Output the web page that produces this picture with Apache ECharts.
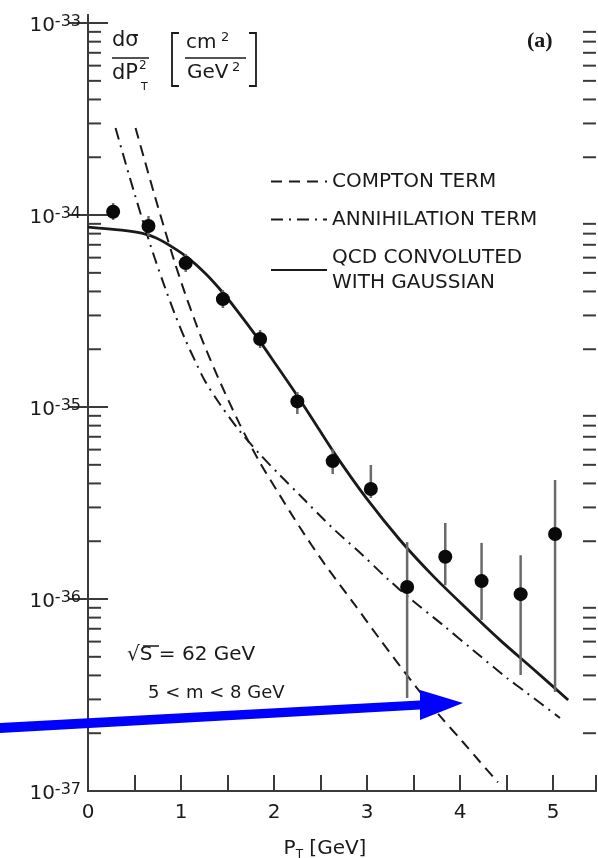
<!DOCTYPE html>
<html><head><meta charset="utf-8">
<script src="https://cdn.jsdelivr.net/npm/echarts@6/dist/echarts.min.js"></script>
<style>html,body{margin:0;padding:0;background:#fff}#c{width:598px;height:858px}</style>
</head><body><div id="c"></div>
<script>
// ---- data ----
const xTicks = [0, 1, 2, 3, 4, 5];
const yTickExponents = [-37, -36, -35, -34, -33];
const minorTickValues = [
  2e-37,3e-37,4e-37,5e-37,6e-37,7e-37,8e-37,9e-37,
  2e-36,3e-36,4e-36,5e-36,6e-36,7e-36,8e-36,9e-36,
  2e-35,3e-35,4e-35,5e-35,6e-35,7e-35,8e-35,9e-35,
  2e-34,3e-34,4e-34,5e-34,6e-34,7e-34,8e-34,9e-34];

const ptData    = [0.27, 0.65, 1.05, 1.45, 1.85, 2.25, 2.63, 3.04, 3.43, 3.84, 4.23, 4.65, 5.02];
const sigmaData = [1.04e-34, 8.77e-35, 5.62e-35, 3.65e-35, 2.26e-35, 1.07e-35, 5.23e-36, 3.74e-36, 1.155e-36, 1.66e-36, 1.24e-36, 1.06e-36, 2.18e-36];
const errHigh   = [1.155e-34, 9.89e-35, 6.27e-35, 4.07e-35, 2.52e-35, 1.197e-35, 6.04e-36, 4.99e-36, 1.98e-36, 2.49e-36, 1.96e-36, 1.69e-36, 4.17e-36];
const errLow    = [9.42e-35, 7.78e-35, 5.05e-35, 3.28e-35, 2.03e-35, 9.2e-36, 4.48e-36, 3.36e-36, 3.05e-37, 1.18e-36, 7.78e-37, 4.02e-37, 3.28e-37];

const qcdPt    = [0, 0.361, 0.576, 0.727, 0.899, 1.082, 1.265, 1.437, 1.598, 1.814, 2.029, 2.244, 2.460, 2.675, 2.998, 3.353, 3.708, 4.074, 4.429, 4.785, 5.161];
const qcdSigma = [8.66e-35, 8.35e-35, 8.05e-35, 7.62e-35, 6.85e-35, 5.95e-35, 4.95e-35, 4.01e-35, 3.20e-35, 2.32e-35, 1.64e-35, 1.155e-35, 7.96e-36, 5.50e-36, 3.32e-36, 2.03e-36, 1.32e-36, 8.87e-37, 6.11e-37, 4.32e-37, 2.98e-37];

const annPt    = [0.296, 0.393, 0.500, 0.608, 0.715, 0.823, 0.931, 1.038, 1.146, 1.253, 1.415, 1.630, 1.845, 2.060, 2.275, 2.630, 2.953, 3.211, 3.480, 3.813, 4.136, 4.502, 4.718, 5.073];
const annSigma = [2.84e-34, 1.945e-34, 1.294e-34, 8.71e-35, 6.01e-35, 4.25e-35, 3.07e-35, 2.29e-35, 1.76e-35, 1.38e-35, 1.04e-35, 7.50e-36, 5.69e-36, 4.43e-36, 3.48e-36, 2.34e-36, 1.69e-36, 1.285e-36, 9.89e-37, 7.33e-37, 5.43e-37, 3.88e-37, 3.24e-37, 2.40e-37];

const comptonPt    = [0.511, 0.608, 0.715, 0.823, 0.931, 1.038, 1.146, 1.253, 1.415, 1.630, 1.845, 2.060, 2.275, 2.544, 2.846, 3.136, 3.534, 3.782, 4.029, 4.212, 4.406];
const comptonSigma = [2.84e-34, 1.935e-34, 1.271e-34, 8.45e-35, 5.69e-35, 3.97e-35, 2.84e-35, 2.08e-35, 1.365e-35, 8.15e-36, 5.17e-36, 3.48e-36, 2.37e-36, 1.52e-36, 9.64e-37, 6.19e-37, 3.44e-37, 2.46e-37, 1.80e-37, 1.42e-37, 1.11e-37];

const seriesNames = ['COMPTON TERM', 'ANNIHILATION TERM', 'QCD CONVOLUTED\nWITH GAUSSIAN'];
const xMin = 0, xMax = 5.46;
const yMin = 1e-37, yMax = Math.pow(10, -32.958);

// ---- chart ----
const FONT = 'DejaVu Sans';
const INK = '#1a1a1a';
const AX = '#3a3a3a';
const pair = (xs, ys) => xs.map((x, i) => [x, ys[i]]);
const chart = echarts.init(document.getElementById('c'), null, {renderer: 'canvas'});

const option = {
  animation: false,
  backgroundColor: '#ffffff',
  grid: {left: 88, right: 2, top: 15, bottom: 67, containLabel: false, outerBoundsMode: 'none'},
  legend: {
    orient: 'vertical', left: 265, top: 164,
    itemWidth: 56, itemHeight: 14, itemGap: 13,
    data: seriesNames,
    itemStyle: {opacity: 0},
    textStyle: {fontFamily: FONT, fontSize: 20, color: INK, lineHeight: 25}
  },
  xAxis: [{
    type: 'value', min: xMin, max: xMax, interval: 0.5,
    axisLine: {lineStyle: {color: AX, width: 2}},
    axisTick: {inside: true, length: 16, lineStyle: {color: AX, width: 2}},
    splitLine: {show: false},
    axisLabel: {
      margin: 12, fontFamily: FONT, fontSize: 20, color: INK,
      formatter: v => (xTicks.indexOf(v) >= 0 ? String(v) : '')
    },
    name: '{a|P}{s|T}{a| [GeV]}',
    nameLocation: 'middle', nameGap: 46,
    nameTextStyle: {
      padding: [0, 34, 0, 0],
      rich: {
        a: {fontFamily: FONT, fontSize: 20, color: INK, lineHeight: 24},
        s: {fontFamily: FONT, fontSize: 12, color: INK, lineHeight: 12, verticalAlign: 'bottom'}
      }
    }
  }, {
    type: 'value', min: xMin, max: xMax, position: 'top',
    axisLine: {show: true, lineStyle: {color: AX, width: 2}},
    axisTick: {show: false}, axisLabel: {show: false}, splitLine: {show: false}
  }],
  yAxis: [{
    type: 'log', logBase: 10, min: yMin, max: yMax,
    axisLine: {show: true, lineStyle: {color: AX, width: 2}},
    axisTick: {inside: true, length: 20, lineStyle: {color: AX, width: 2}},
    splitLine: {show: false},
    axisLabel: {show: false}
  }, {
    type: 'log', logBase: 10, min: yMin, max: yMax, position: 'right',
    axisLine: {show: true, lineStyle: {color: AX, width: 2}},
    axisTick: {inside: true, length: 20, lineStyle: {color: AX, width: 2}},
    axisLabel: {show: false}, splitLine: {show: false}
  }],
  series: [
    {
      name: seriesNames[0], type: 'line', data: pair(comptonPt, comptonSigma),
      symbol: 'none', smooth: 0.3, z: 3,
      lineStyle: {color: INK, width: 2, type: [11, 7]},
      itemStyle: {color: INK}
    },
    {
      name: seriesNames[1], type: 'line', data: pair(annPt, annSigma),
      symbol: 'none', smooth: 0.3, z: 3,
      lineStyle: {color: INK, width: 2, type: [12, 6, 2, 6]},
      itemStyle: {color: INK}
    },
    {
      name: seriesNames[2], type: 'line', data: pair(qcdPt, qcdSigma),
      symbol: 'none', smooth: 0.3, z: 4,
      lineStyle: {color: INK, width: 2.8},
      itemStyle: {color: INK}
    },
    {
      name: 'error bars', type: 'custom', z: 5,
      data: ptData.map((x, i) => [x, errLow[i], errHigh[i]]),
      encode: {x: 0, y: [1, 2]},
      renderItem: (params, api) => {
        const p1 = api.coord([api.value(0), api.value(1)]);
        const p2 = api.coord([api.value(0), api.value(2)]);
        return {type: 'line', shape: {x1: p1[0], y1: p1[1], x2: p2[0], y2: p2[1]},
                style: {stroke: '#6a6a6a', lineWidth: 2.5}};
      }
    },
    {
      name: 'data', type: 'scatter', z: 6,
      data: pair(ptData, sigmaData),
      symbol: 'circle', symbolSize: 14,
      itemStyle: {color: '#0a0a0a', opacity: 1}
    },
    {
      name: 'minor ticks', type: 'custom', z: 2, clip: false, silent: true,
      data: minorTickValues.map(v => [xMin, v]),
      encode: {x: 0, y: 1},
      renderItem: (params, api) => {
        const v = api.value(1);
        const l = api.coord([xMin, v]);
        const r = api.coord([xMax, v]);
        return {type: 'group', children: [
          {type: 'line', shape: {x1: l[0], y1: l[1], x2: l[0] + 13, y2: l[1]}, style: {stroke: AX, lineWidth: 2}},
          {type: 'line', shape: {x1: r[0] - 13, y1: r[1], x2: r[0], y2: r[1]}, style: {stroke: AX, lineWidth: 2}}
        ]};
      }
    },
    {
      name: 'decade labels', type: 'custom', z: 2, clip: false, silent: true,
      data: yTickExponents.map(e => [xMin, Math.pow(10, e), e]),
      encode: {x: 0, y: 1},
      renderItem: (params, api) => {
        const p = api.coord([xMin, api.value(1)]);
        return {type: 'text', x: p[0] - 7, y: p[1] + 2, style: {
          text: '{b|10}{s|' + api.value(2) + '}',
          align: 'right', verticalAlign: 'middle',
          rich: {
            b: {fontFamily: FONT, fontSize: 20, fill: INK, lineHeight: 22, verticalAlign: 'bottom'},
            s: {fontFamily: FONT, fontSize: 16, fill: INK, lineHeight: 15, verticalAlign: 'top'}
          }
        }};
      }
    }
  ],
  graphic: [
    {type: 'text', left: 112, top: 30, style: {text: 'dσ', font: '21px "DejaVu Sans"', fill: INK}},
    {type: 'line', shape: {x1: 112, y1: 58, x2: 149, y2: 58}, style: {stroke: INK, lineWidth: 1.6}},
    {type: 'text', left: 112, top: 63, style: {text: 'dP', font: '21px "DejaVu Sans"', fill: INK}},
    {type: 'text', left: 139, top: 60, style: {text: '2', font: '12px "DejaVu Sans"', fill: INK}},
    {type: 'text', left: 141, top: 82, style: {text: 'T', font: '11px "DejaVu Sans"', fill: INK}},
    {type: 'polyline', shape: {points: [[179, 33], [172, 33], [172, 86], [179, 86]]}, style: {stroke: INK, lineWidth: 1.8, fill: null}},
    {type: 'text', left: 186, top: 33, style: {text: 'cm', font: '20px "DejaVu Sans"', fill: INK}},
    {type: 'text', left: 221, top: 31, style: {text: '2', font: '13px "DejaVu Sans"', fill: INK}},
    {type: 'line', shape: {x1: 185, y1: 58, x2: 246, y2: 58}, style: {stroke: INK, lineWidth: 1.6}},
    {type: 'text', left: 187, top: 63, style: {text: 'GeV', font: '20px "DejaVu Sans"', fill: INK}},
    {type: 'text', left: 232, top: 61, style: {text: '2', font: '13px "DejaVu Sans"', fill: INK}},
    {type: 'polyline', shape: {points: [[249, 33], [256, 33], [256, 86], [249, 86]]}, style: {stroke: INK, lineWidth: 1.8, fill: null}},
    {type: 'text', left: 527, top: 30, style: {text: '(a)', font: 'bold 22px "Liberation Serif"', fill: INK}},
    {type: 'text', left: 127, top: 645, style: {text: '√S = 62 GeV', font: '20px "DejaVu Sans"', fill: INK}},
    {type: 'line', shape: {x1: 143, y1: 646, x2: 159, y2: 646}, style: {stroke: INK, lineWidth: 1.5}},
    {type: 'text', left: 148, top: 684, style: {text: '5 < m < 8 GeV', font: '18px "DejaVu Sans"', fill: INK}},
    {type: 'polygon', z: 100,
     shape: {points: [[0, 723], [420, 700.5], [420, 690], [463, 703], [420, 720], [420, 709.5], [0, 733]]},
     style: {fill: '#0000ff', stroke: null}}
  ]
};
chart.setOption(option);
</script>
</body></html>
